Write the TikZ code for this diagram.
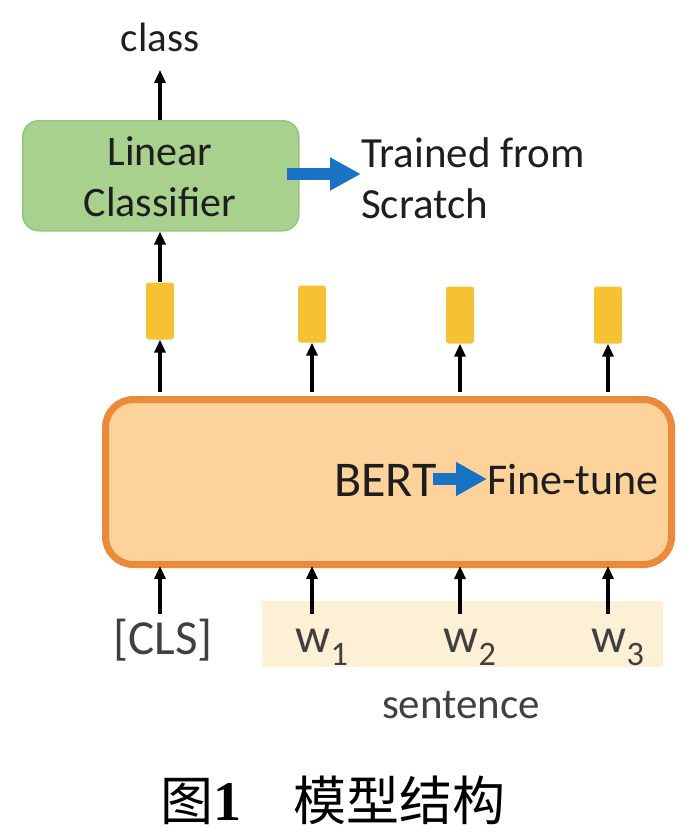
\documentclass[tikz,border=0pt]{standalone}
\usepackage{fontspec}
\setmainfont{Carlito}
\newfontfamily\cjk{Noto Sans CJK SC}
\newfontfamily\numfont{Liberation Serif}
\usetikzlibrary{arrows.meta}
\definecolor{greenfill}{HTML}{A9D18E}
\definecolor{greenedge}{HTML}{97C47B}
\definecolor{goldfill}{HTML}{F5C233}
\definecolor{orangefill}{HTML}{FDD29B}
\definecolor{orangeedge}{HTML}{EC8A3C}
\definecolor{bandfill}{HTML}{FDF0D4}
\definecolor{bluearr}{HTML}{1A72C4}
\definecolor{txt}{HTML}{1E1E1E}
\begin{document}
\begin{tikzpicture}[x=1pt,y=-1pt,
  arr/.style={-{Triangle[length=13pt,width=11pt]},line width=3.6pt,black},
  bluearrow/.style={-{Triangle[length=31pt,width=31pt]},line width=12pt,bluearr},
  vec/.style={draw=none,fill=goldfill,rounded corners=3pt,minimum width=28pt,minimum height=57pt,inner sep=0pt},
  lbl/.style={text=txt,inner sep=0pt,font=\fontsize{41}{48}\selectfont}
]
\useasboundingbox (0,0) rectangle (695,838);
% sentence band
\node[fill=bandfill,minimum width=401pt,minimum height=66pt,inner sep=0pt,anchor=north west] (band) at (262,601) {};
% green classifier
\node[fill=greenfill,draw=greenedge,line width=1.5pt,rounded corners=16pt,minimum width=276pt,minimum height=110pt,inner sep=0pt,anchor=north west] (lc) at (22,120) {};
\node[text=txt,inner sep=0pt,anchor=base,font=\fontsize{42}{50}\selectfont] (lc1) at (160,165) {Linear};
\node[text=txt,inner sep=0pt,anchor=base,font=\fontsize{42}{50}\selectfont] (lc2) at (160,216) {Classifier};
\node[lbl,anchor=base] (cls) at (160,51) {class};
\node[text=txt,inner sep=0pt,anchor=base west,font=\fontsize{43}{50}\selectfont] (tfs1) at (361,167) {Trained from};
\node[text=txt,inner sep=0pt,anchor=base west,font=\fontsize{43}{50}\selectfont] (tfs2) at (361,218) {Scratch};
\coordinate (ba1) at (287,174);
\draw[bluearrow] (ba1) -- (tfs1.west |- ba1);
% yellow vectors
\foreach \i/\x/\y in {0/160/311,1/312/314,2/460/315,3/608/315}{
  \node[vec] (v\i) at (\x,\y) {};
}
% BERT box
\node[fill=orangefill,draw=orangeedge,line width=7pt,rounded corners=28pt,minimum width=566pt,minimum height=165pt,inner sep=0pt,anchor=north west] (bert) at (102,396) {};
\node[text=txt,inner sep=0pt,anchor=base west,font=\fontsize{50}{58}\selectfont] (bt) at (334,496) {BERT};
\node[text=txt,inner sep=0pt,anchor=base west,font=\fontsize{44}{50}\selectfont] (ft) at (487,494) {Fine-tune};
\coordinate (bb1) at (433,479);
\draw[-{Triangle[length=31pt,width=32pt]},line width=12pt,bluearr] (bb1) -- (ft.west |- bb1);
% inputs
\tikzset{inp/.style={text=txt!85,inner sep=0pt,anchor=base,font=\fontsize{49}{56}\selectfont}}
\node[inp] (in0) at (163,654) {[CLS]};
\node[inp] (in1) at (322,652) {w\textsubscript{1}};
\node[inp] (in2) at (470,652) {w\textsubscript{2}};
\node[inp] (in3) at (618,652) {w\textsubscript{3}};
\node[text=txt!85,inner sep=0pt,anchor=base,font=\fontsize{43}{50}\selectfont] (sent) at (461,718) {sentence};
% caption
\node[inner sep=0pt,anchor=base west,font=\fontsize{53}{60}\selectfont] (cap) at (160,820) {{\cjk 图}{\numfont\bfseries\fontsize{56}{60}\selectfont 1}\hspace{52pt}{\cjk 模型结构}};
% arrows
\coordinate (c0) at (160,70);
\draw[arr] (lc.north -| cls) -- (c0);
\draw[arr] (v0.north) -- (v0.north |- lc.south);
\foreach \i/\x in {0/160,1/312,2/460,3/608}{
  \draw[arr] (\x,392) -- (v\i.south);
  \coordinate (b\i) at (\x,614);
  \draw[arr] (b\i) -- (\x,566);
}
\end{tikzpicture}
\end{document}
